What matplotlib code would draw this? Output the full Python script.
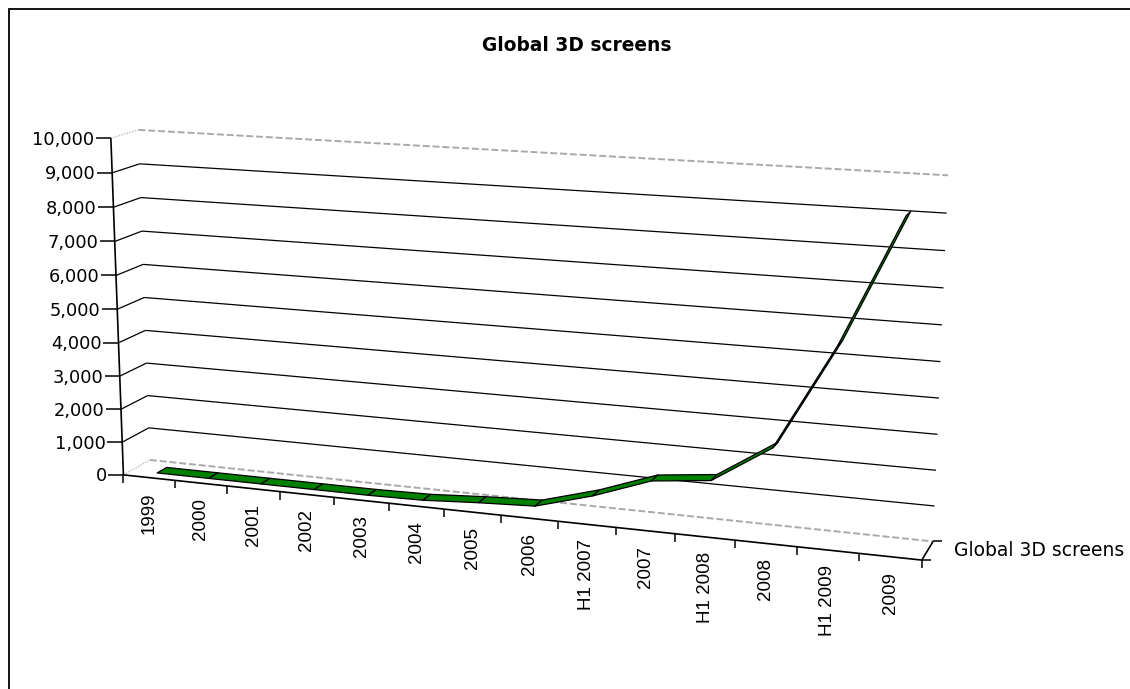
import numpy as np
import matplotlib
matplotlib.use("Agg")
import matplotlib.pyplot as plt
from matplotlib.transforms import offset_copy
from matplotlib.patches import Rectangle
from matplotlib.path import Path
from mpl_toolkits.mplot3d.art3d import Poly3DCollection

# ---- data -------------------------------------------------------------
periods = ["1999", "2000", "2001", "2002", "2003", "2004", "2005", "2006",
           "H1 2007", "2007", "H1 2008", "2008", "H1 2009", "2009"]
screens = [0, 0, 0, 0, 0, 25, 125, 200, 670, 1270, 1450, 2530, 5500, 9090]
value_ticks = list(range(0, 10001, 1000))
series_name = "Global 3D screens"
title = "Global 3D screens"

# ---- figure / 3D view ---------------------------------------------------
W, H = 1130, 689
fig = plt.figure(figsize=(W / 100, H / 100), dpi=100)
fig.patch.set_facecolor("white")

ax = fig.add_axes([0.0436, -0.1547, 0.7950, 1.3039], projection="3d",
                  computed_zorder=False)
n = len(periods)
zmax = value_ticks[-1]
ax.set_xlim(0, n)
ax.set_ylim(0, 1)
ax.set_zlim(0, zmax)
ax.view_init(elev=13.319, azim=-70.514, roll=0)
ax.set_proj_type("persp", focal_length=0.5123)
ax.set_box_aspect((1, 0.0708, 0.4239))
ax.set_axis_off()
ax.patch.set_visible(False)

GRAY = "#a9a9a9"
grid_kw = dict(color="black", lw=0.9, zorder=1, solid_capstyle="butt")
dash_kw = dict(color=GRAY, lw=1.4, ls=(0, (3.6, 1.45)), zorder=1)
dot_kw = dict(color="#bdbdbd", lw=1.0, ls=(0, (1, 1)), zorder=1)
axis_kw = dict(color="black", lw=1.2, zorder=4, solid_capstyle="butt")

# walls: side wall (x = 0) and back wall (y = 1)
for z in value_ticks[1:-1]:
    ax.plot([0, 0], [0, 1], [z, z], **grid_kw)
    ax.plot([0, n], [1, 1], [z, z], **grid_kw)
ax.plot([0, n], [1, 1], [zmax, zmax], **dash_kw)
ax.plot([0, n], [1, 1], [0, 0], **dash_kw)
ax.plot([0, 0], [0, 1], [zmax, zmax], **dot_kw)
ax.plot([0, 0], [0, 1], [0, 0], **dot_kw)

# ribbon for the series
xc = np.arange(n) + 0.5
y_front, y_back = 0.306, 0.672
quads = []
for i in range(n - 1):
    quads.append([(xc[i], y_front, screens[i]), (xc[i + 1], y_front, screens[i + 1]),
                  (xc[i + 1], y_back, screens[i + 1]), (xc[i], y_back, screens[i])])
ribbon = Poly3DCollection(quads, facecolor="#008000", edgecolor="black",
                          linewidths=0.9, zorder=2)
ax.add_collection3d(ribbon)

# axis lines
ax.plot([0, n], [0, 0], [0, 0], **axis_kw)
ax.plot([0, 0], [0, 0], [0, zmax], **axis_kw)
ax.plot([n, n], [0, 1], [0, 0], **axis_kw)

# tick marks
left_tick = Path([(-1, 0), (0, 0)])
down_tick = Path([(0, 0), (0, -1)])
right_tick = Path([(0, 0), (1, 0)])
ax.plot(np.zeros(len(value_ticks)), np.zeros(len(value_ticks)), value_ticks,
        ls="none", marker=left_tick, ms=21.6, mec="black", mew=1.1, zorder=4)
ax.plot(np.arange(n + 1), np.zeros(n + 1), np.zeros(n + 1),
        ls="none", marker=down_tick, ms=11.5, mec="black", mew=1.1, zorder=4)
ax.plot([n, n], [0, 1], [0, 0],
        ls="none", marker=right_tick, ms=13.4, mec="black", mew=1.1, zorder=4)

# ---- labels placed at projected data positions ---------------------------
M = ax.get_proj()


def projected(x, y, z):
    h = M @ np.array([x, y, z, 1.0])
    return h[0] / h[3], h[1] / h[3]


def shifted(dx, dy):
    return offset_copy(ax.transData, x=dx, y=dy, units="dots")


for z in value_ticks:
    px, py = projected(0, 0, z)
    ax.text2D(px, py, f"{z:,}", transform=shifted(-16.5, -6.5),
              ha="right", va="baseline", fontsize=12.8,
              family="DejaVu Sans", color="black")

for i, lab in enumerate(periods):
    px, py = projected(xc[i], 0, 0)
    ax.text2D(px, py, lab, transform=shifted(0, -15), rotation=90,
              ha="center", va="top", fontsize=13.5,
              family="Liberation Sans", color="black")

px, py = projected(n, 0.5, 0)
ax.text2D(px, py, series_name, transform=shifted(26, -5.5),
          ha="left", va="baseline", fontsize=13.5,
          family="DejaVu Sans", color="black")

fig.text(577 / W, 1 - 50.7 / H, title, ha="center", va="baseline",
         fontsize=13.4, fontweight="bold", family="DejaVu Sans", color="black")

# chart-area border
fig.add_artist(Rectangle((8.5 / W, -0.05), 1.2, 1.05 - 8.5 / H,
                         transform=fig.transFigure, fill=False,
                         ec="black", lw=1.3, zorder=10))

fig.savefig("out.png", dpi=100, facecolor="white")
